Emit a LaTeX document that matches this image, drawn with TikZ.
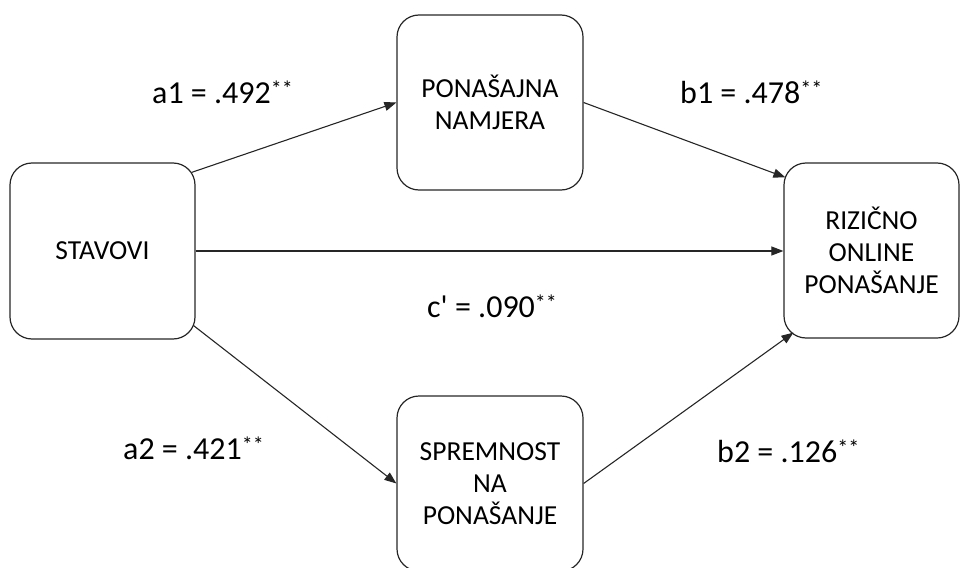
\documentclass[tikz,border=0pt]{standalone}
\usepackage{fontspec}
\setmainfont{Carlito}
\usetikzlibrary{arrows.meta}
\tikzset{
  boxnode/.style={draw=black!85, line width=1.2pt, rounded corners=22pt, align=center,
    inner sep=0pt, font=\fontsize{27.5}{32}\selectfont},
  conn/.style={draw=black!85, line width=1.1pt, -{Triangle[length=12pt,width=9pt]}},
  lab/.style={anchor=base west, inner sep=0pt, font=\fontsize{32}{38}\selectfont}
}
\newcommand{\sig}{{\fontsize{22}{22}\selectfont\raisebox{7pt}{**}}}
\begin{document}
\begin{tikzpicture}[x=1pt,y=1pt]
\useasboundingbox (0,0) rectangle (960,-567);
\node[boxnode, minimum width=185pt, minimum height=176pt] (stav) at (102.5,-251) {STAVOVI};
\node[boxnode, minimum width=186pt, minimum height=175pt] (pon) at (490,-102.5) {PONAŠAJNA\\NAMJERA};
\node[boxnode, minimum width=186pt, minimum height=175pt] (spr) at (490,-483.5) {SPREMNOST\\NA\\PONAŠANJE};
\node[boxnode, minimum width=175pt, minimum height=175pt] (riz) at (871.5,-250.5) {RIZIČNO\\ONLINE\\PONAŠANJE};
\coordinate (a1s) at ([xshift=-4pt,yshift=-10pt]stav.north east);
\coordinate (a2s) at ([xshift=-2pt,yshift=14pt]stav.south east);
\coordinate (b1e) at ([xshift=2pt,yshift=-15pt]riz.north west);
\coordinate (b2e) at ([xshift=10pt,yshift=6pt]riz.south west);
\draw[conn] (a1s) -- (pon.west);
\draw[conn] (pon.east) -- (b1e);
\draw[conn] (stav.east) -- (stav.east -| riz.west);
\draw[conn] (a2s) -- (spr.west);
\draw[conn] (spr.east) -- (b2e);
\node[lab] (la1) at (152,-103) {a1 = .492\sig};
\node[lab] (lb1) at (680,-103) {b1 = .478\sig};
\node[lab] (lc) at (427,-317) {c\textquotesingle{} = .090\sig};
\node[lab] (la2) at (123,-459) {a2 = .421\sig};
\node[lab] (lb2) at (717,-462) {b2 = .126\sig};
\end{tikzpicture}
\end{document}
